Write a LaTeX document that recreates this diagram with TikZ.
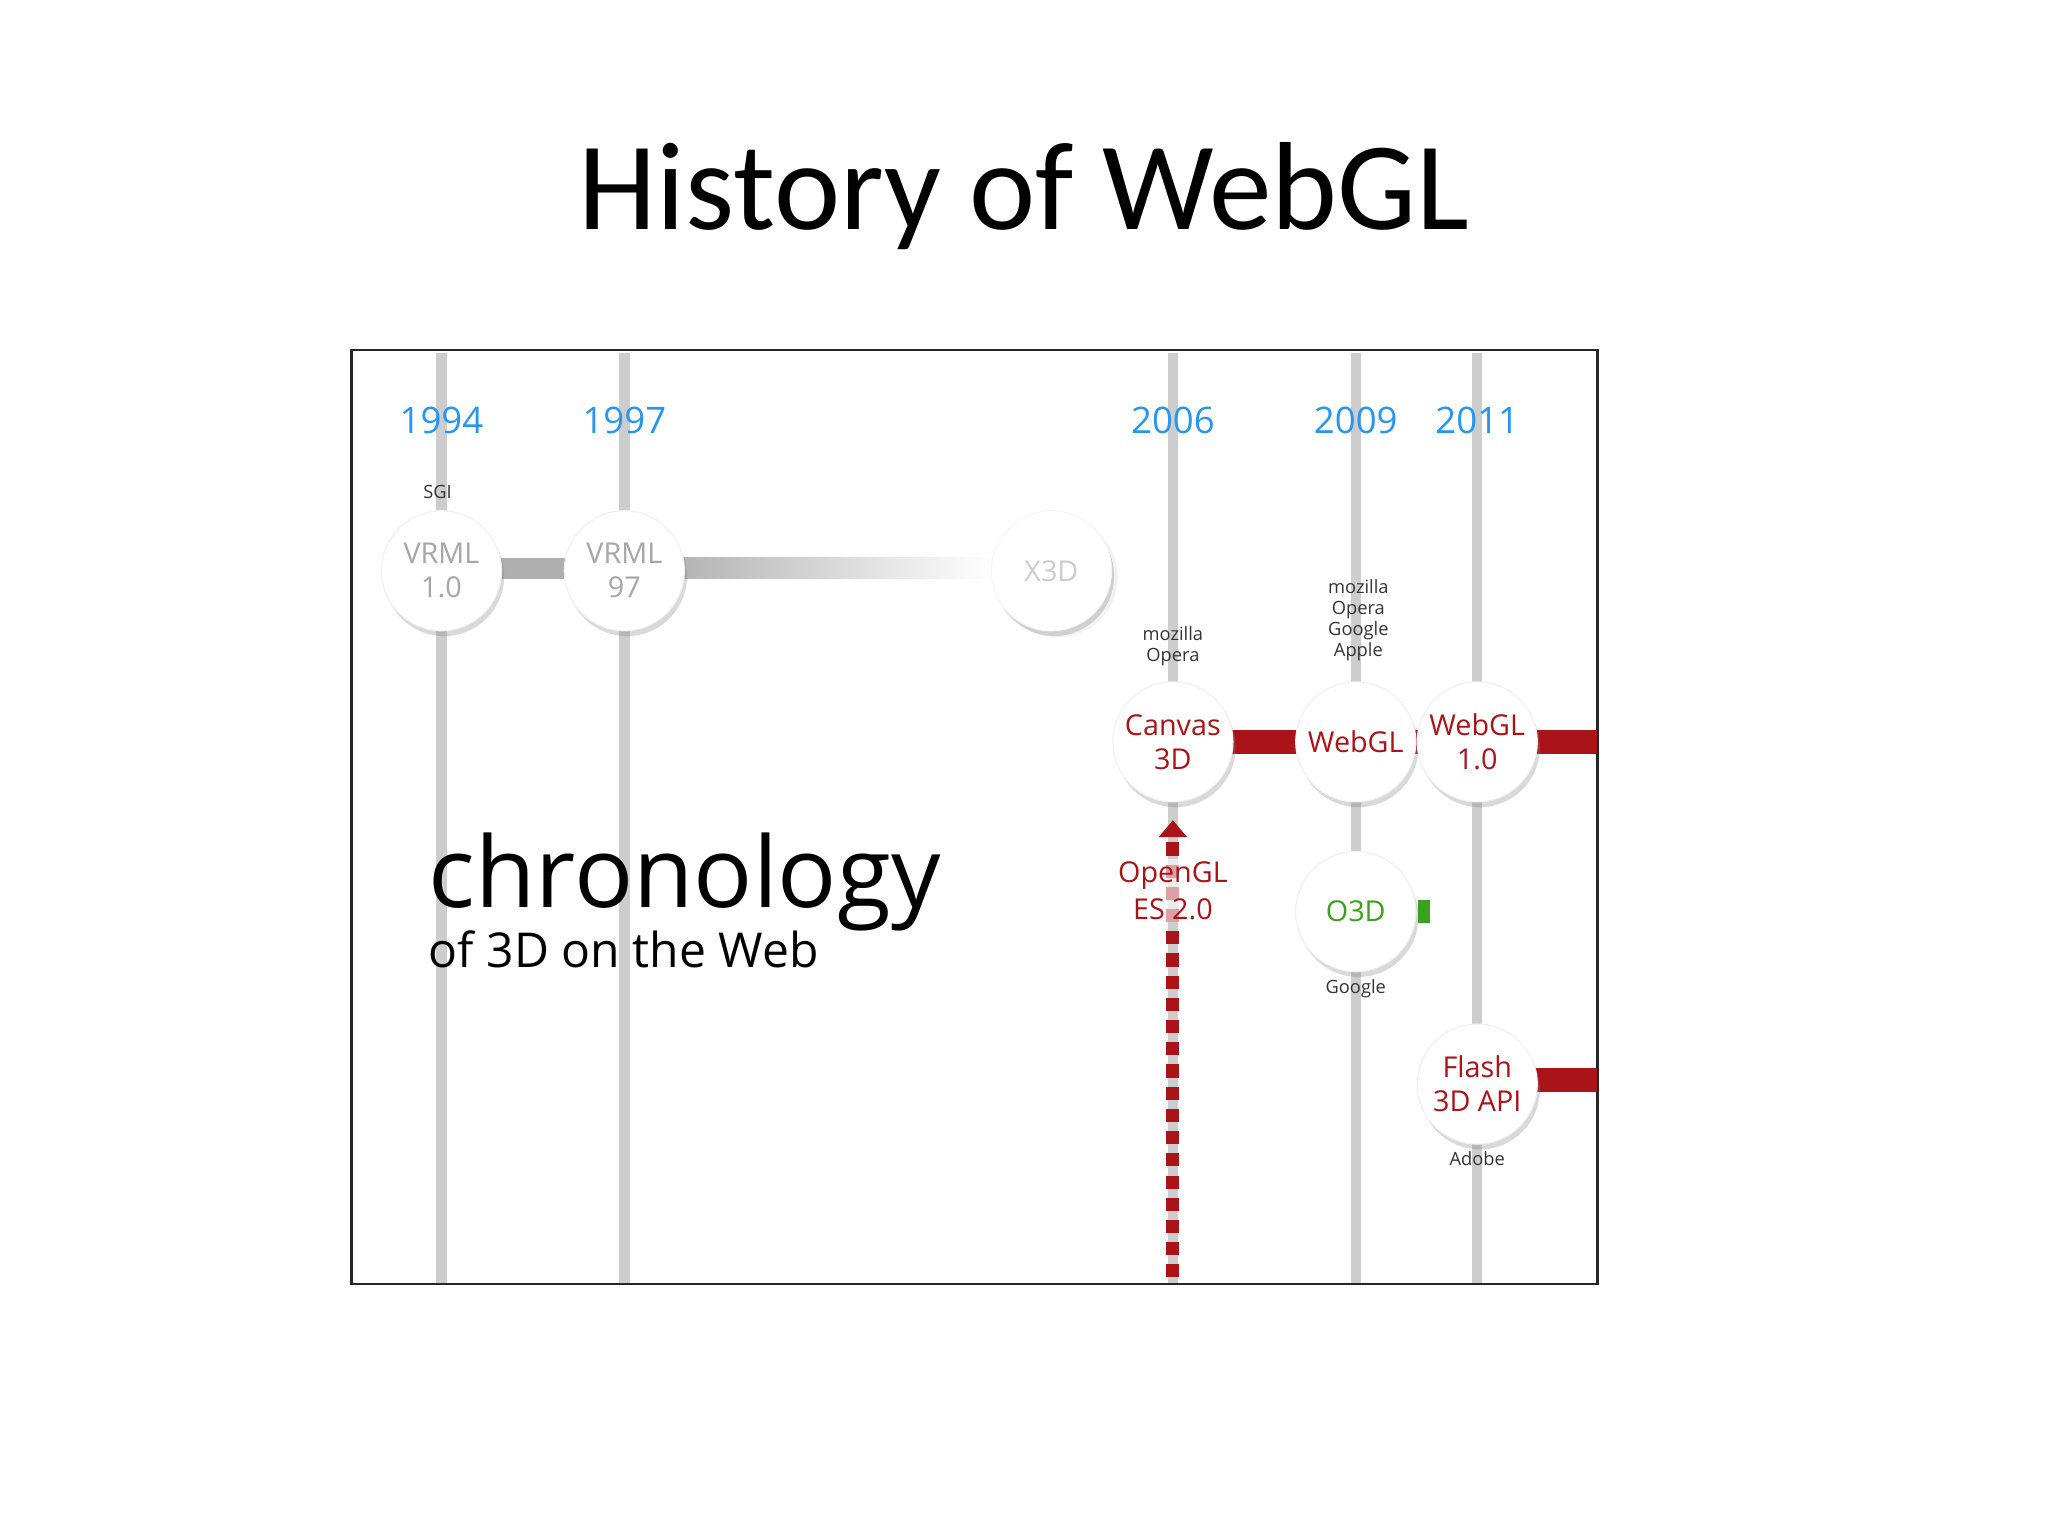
\documentclass[tikz,border=0pt]{standalone}
\usepackage{fontspec}
\setmainfont{Carlito}
\newfontfamily\sans{Open Sans}
\usetikzlibrary{shadows,arrows.meta}
\definecolor{yr}{RGB}{40,150,240}
\definecolor{wred}{RGB}{170,20,25}
\definecolor{vgray}{RGB}{205,205,205}
\definecolor{fgray}{RGB}{175,175,175}
\definecolor{ogreen}{RGB}{60,160,30}
\tikzset{
 vline/.style={draw=vgray,line width=4pt},
 yearlbl/.style={text=yr,font=\sans\fontsize{14}{14}\selectfont},
 bubble/.style={circle,minimum size=46pt,inner sep=0pt,fill=white,draw=black!6,
   drop shadow={shadow xshift=1pt,shadow yshift=-2pt,opacity=0.3},align=center,
   font=\sans\fontsize{11}{13}\selectfont},
 small/.style={font=\sans\fontsize{7}{8}\selectfont,align=center,text=black!80},
}
\begin{document}
\begin{tikzpicture}[x=0.5pt,y=-0.5pt]
\useasboundingbox (0,0) rectangle (1568,1176);
\node (title) at (784,150) {\fontsize{48}{52}\selectfont History of WebGL};
\node[draw=black!85,line width=1pt,minimum width=477pt,minimum height=357.5pt,inner sep=0pt] (frame) at (746,625.5) {};
% vertical lines
\foreach \x/\n in {338/a,478/b,898/c,1038/d,1131/e}{
 \coordinate (t\n) at (\x,270); \coordinate (b\n) at (\x,982);
 \draw[vline] (t\n) -- (b\n);}
% years
\node[yearlbl] (y1) at (338,322) {1994};
\node[yearlbl] (y2) at (478,322) {1997};
\node[yearlbl] (y3) at (898,322) {2006};
\node[yearlbl] (y4) at (1038,322) {2009};
\node[yearlbl] (y5) at (1131,322) {2011};
% gray bar
\fill[fgray] (338,427) rectangle (478,443);
\shade[left color=fgray!95!black,right color=white] (478,427) rectangle (760,443);
\node[bubble,text=black!35] (vr1) at (338,437) {VRML\\1.0};
\node[bubble,text=black!35] (vr2) at (478,437) {VRML\\97};
\node[bubble,text=black!20,draw=black!3,drop shadow={opacity=0.1}] (x3d) at (805,437) {X3D};
\node[small] (sgi) at (335,377) {SGI};
% red bars
\fill[wred] (898,559) rectangle (1223,577);
\fill[wred] (1131,818) rectangle (1223,836);
% red dashed line
\coordinate (ds) at (898,978); \coordinate (de) at (898,640);
\draw[wred,line width=5pt,dash pattern=on 5pt off 3.5pt] (ds) -- (de);
\fill[wred] (887,641) -- (909,641) -- (898,628) -- cycle;
\node[text=wred,font=\sans\fontsize{11}{14}\selectfont,align=center,fill=white,fill opacity=0.6,text opacity=1,inner sep=1pt] (ogl) at (898,682) {OpenGL\\ES 2.0};
\node[bubble,text=wred] (cv) at (898,568) {Canvas\\3D};
\node[bubble,text=wred] (wg) at (1038,568) {WebGL};
\node[bubble,text=wred] (wg1) at (1131,568) {WebGL\\1.0};
\node[small] (mo1) at (898,495) {mozilla\\Opera};
\node[small] (mo2) at (1040,475) {mozilla\\Opera\\Google\\Apple};
\fill[ogreen] (1086,689) rectangle (1095,707);
\node[bubble,text=ogreen] (o3d) at (1038,698) {O3D};
\node[small] (goo) at (1038,757) {Google};
\node[bubble,text=wred] (fl) at (1131,830) {Flash\\3D API};
\node[small] (ado) at (1131,887) {Adobe};
\node[anchor=base west,inner sep=0pt,font=\sans\fontsize{37.6}{38}\selectfont] (chr) at (328,695) {chronology};
\node[anchor=base west,inner sep=0pt,font=\sans\fontsize{18.4}{19}\selectfont] (sub) at (328,741) {of 3D on the Web};
\end{tikzpicture}
\end{document}
